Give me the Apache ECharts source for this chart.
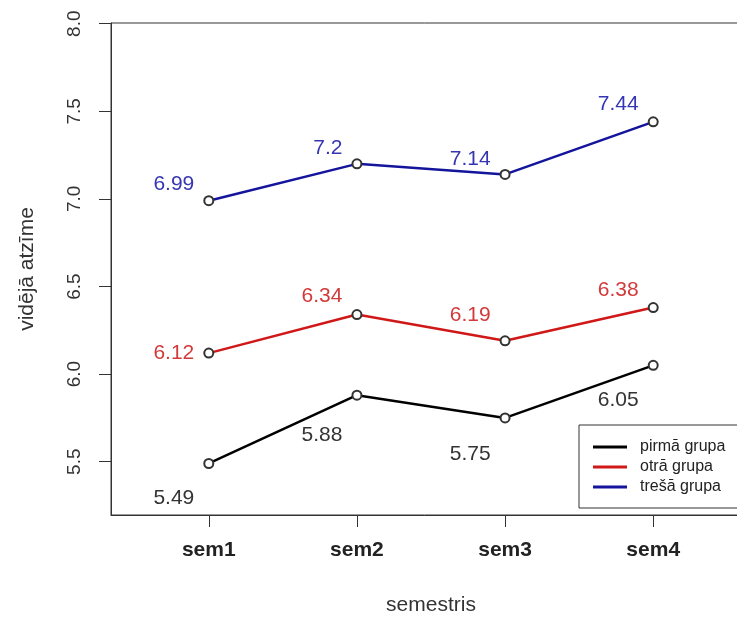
<!DOCTYPE html>
<html>
<head>
<meta charset="utf-8">
<script src="https://cdn.jsdelivr.net/npm/echarts@6/dist/echarts.min.js"></script>
<style>
html,body{margin:0;padding:0;background:#fff;}
#c{width:737px;height:617px;}
</style>
</head>
<body>
<div id="c"></div>
<script>
// ---- data ----
const categories = ['sem1', 'sem2', 'sem3', 'sem4'];
const seriesNames = ['pirmā grupa', 'otrā grupa', 'trešā grupa'];
const pirmaGrupa = [5.49, 5.88, 5.75, 6.05];
const otraGrupa = [6.12, 6.34, 6.19, 6.38];
const tresaGrupa = [6.99, 7.2, 7.14, 7.44];
const yTicks = [5.5, 6.0, 6.5, 7.0, 7.5, 8.0];
const xTicks = [1, 2, 3, 4];

// ---- styles ----
const FONT = 'Liberation Sans, Arial, sans-serif';
const lineColors = ['#000000', '#d01818', '#14149c'];
const labelColors = ['#333333', '#d23a3a', '#3636b2'];
const labelDy = [[35, 40, 36, 35], [0, -18, -26, -17], [-16, -16, -15, -18]];

const allValues = [pirmaGrupa, otraGrupa, tresaGrupa];

const chart = echarts.init(document.getElementById('c'), null, {renderer: 'canvas'});

const series = allValues.map((vals, si) => ({
  name: seriesNames[si],
  type: 'line',
  data: vals.map((v, i) => ({
    value: [xTicks[i], v],
    label: {offset: [0, labelDy[si][i]]}
  })),
  symbol: 'emptyCircle',
  symbolSize: 9,
  color: lineColors[si],
  lineStyle: {color: lineColors[si], width: 2.5},
  itemStyle: {color: '#333', borderWidth: 1},
  label: {
    show: true,
    position: 'left',
    distance: 9,
    color: labelColors[si],
    fontFamily: FONT,
    fontSize: 21,
    formatter: p => String(p.value[1])
  },
  emphasis: {disabled: true},
  animation: false
}));

chart.setOption({
  backgroundColor: '#ffffff',
  animation: false,
  grid: {
    left: 111, top: 23, width: 640, height: 492,
    outerBoundsMode: 'none',
    containLabel: false,
    show: true, borderColor: '#333', borderWidth: 1, backgroundColor: 'transparent'
  },
  xAxis: {
    type: 'value',
    min: 0.34, max: 4.66,
    name: 'semestris',
    nameLocation: 'middle',
    nameGap: 80,
    nameTextStyle: {fontFamily: FONT, fontSize: 21, color: '#333'},
    axisLine: {show: true, lineStyle: {color: '#333', width: 1}},
    axisTick: {show: true, length: 12, lineStyle: {color: '#333'}, customValues: xTicks},
    axisLabel: {
      customValues: xTicks,
      margin: 25,
      fontFamily: FONT, fontSize: 21, fontWeight: 'bold', color: '#222',
      formatter: v => categories[Math.round(v) - 1]
    },
    splitLine: {show: false}
  },
  yAxis: {
    type: 'value',
    min: 5.196, max: 8.004,
    name: 'vidējā atzīme',
    nameLocation: 'middle',
    nameGap: 73,
    nameRotate: 90,
    nameTextStyle: {fontFamily: FONT, fontSize: 21, color: '#333'},
    axisLine: {show: true, lineStyle: {color: '#333', width: 1}},
    axisTick: {show: true, length: 12, lineStyle: {color: '#333'}, customValues: yTicks},
    axisLabel: {
      customValues: yTicks,
      rotate: 90,
      margin: 27,
      fontFamily: FONT, fontSize: 19, color: '#333',
      formatter: v => v.toFixed(1)
    },
    splitLine: {show: false}
  },
  legend: {
    orient: 'vertical',
    left: 579, top: 425,
    padding: [14, 30, 13, 14],
    backgroundColor: '#fff',
    borderColor: '#333',
    borderWidth: 1,
    borderRadius: 0,
    itemGap: 4,
    itemWidth: 34,
    itemHeight: 3,
    icon: 'rect',
    selectedMode: false,
    textStyle: {fontFamily: FONT, fontSize: 16, color: '#222', padding: [0, 0, 0, 8]},
    data: seriesNames.map((n, i) => ({name: n, itemStyle: {color: lineColors[i]}}))
  },
  series: series
});
</script>
</body>
</html>
